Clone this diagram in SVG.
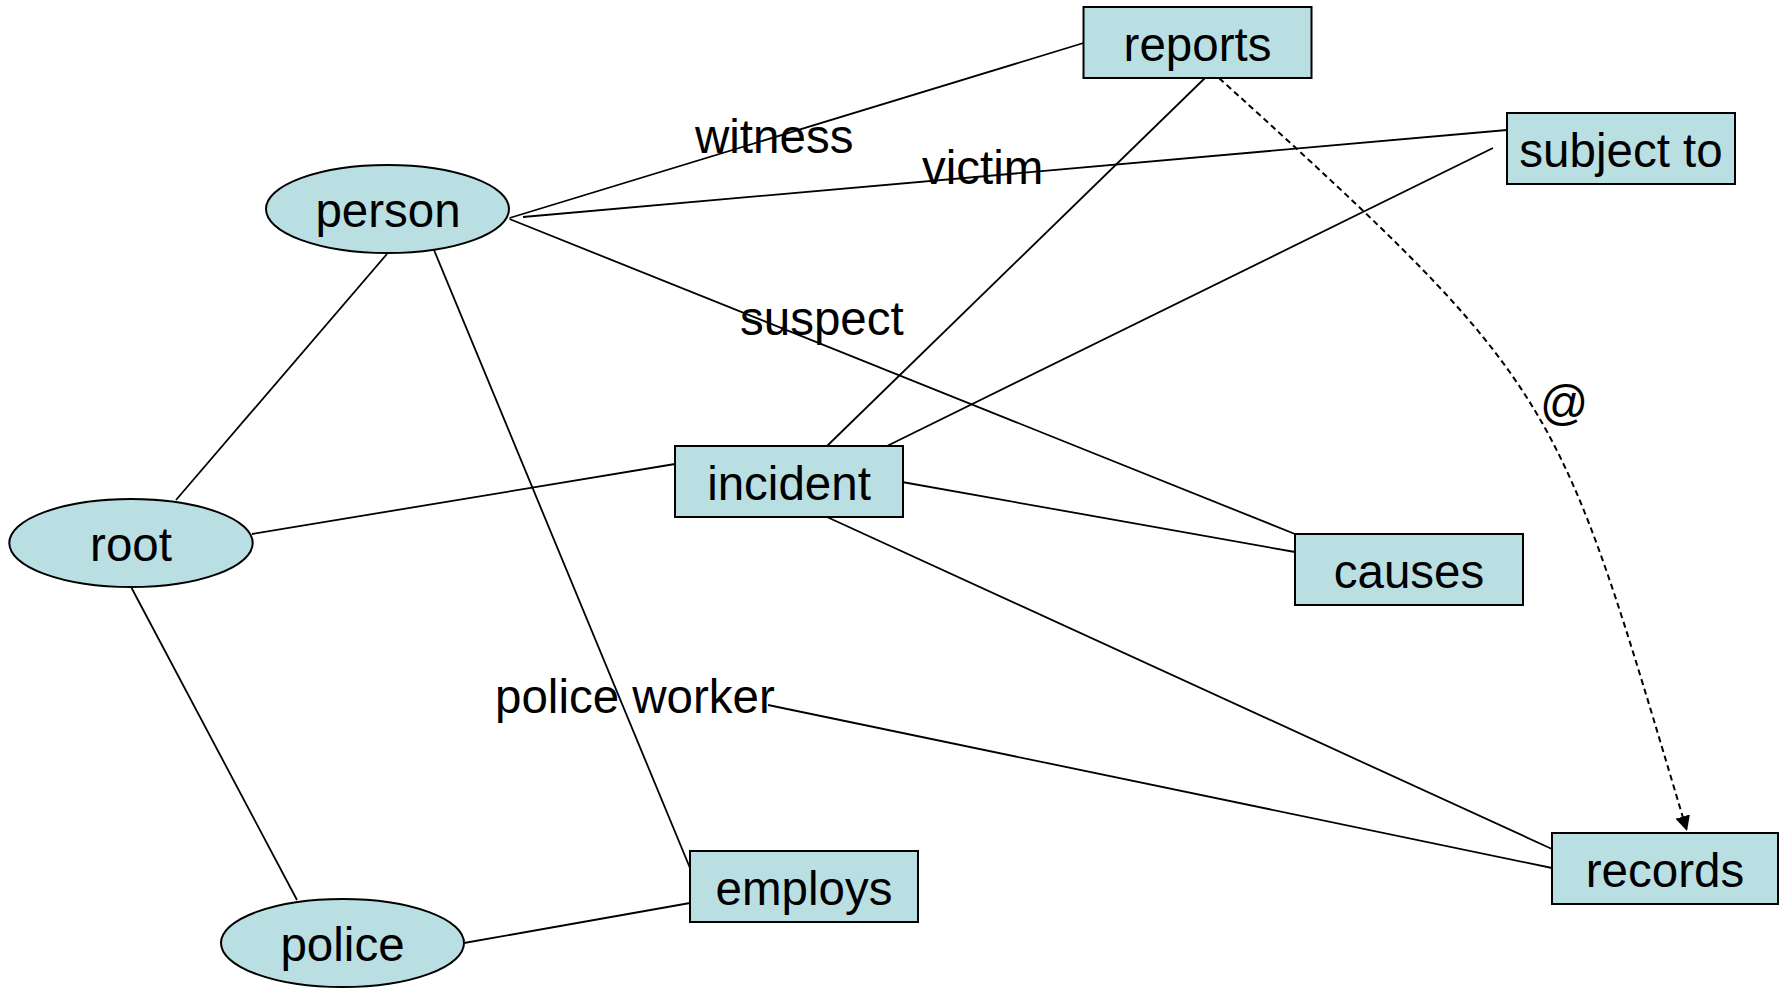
<svg xmlns="http://www.w3.org/2000/svg" width="1779" height="988" viewBox="0 0 1779 988">
<style>
.n{fill:#b9dfe3;stroke:#000;stroke-width:2}
.t{font-family:"Liberation Sans",Arial,sans-serif;font-size:47.5px;fill:#000;text-anchor:middle}
.l{font-family:"Liberation Sans",Arial,sans-serif;font-size:47.5px;fill:#000}
.c line,.c path{stroke:#000;stroke-width:1.8;fill:none}
.c .d{stroke-dasharray:6 4;stroke-width:2}
</style>
<defs>
<marker id="ah" markerUnits="userSpaceOnUse" markerWidth="16" markerHeight="16" viewBox="0 0 16 16" refX="15" refY="8" orient="auto">
<path d="M0,0.5 L15,8 L0,15.5 Z" fill="#000"/>
</marker>
</defs>
<rect width="1779" height="988" fill="#fff"/>
<g id="connectors" class="c">
<line x1="509.5" y1="218" x2="1083.5" y2="43"/>
<line x1="523" y1="217" x2="1507" y2="130"/>
<line x1="509.5" y1="219" x2="1295" y2="534"/>
<line x1="387" y1="254" x2="176" y2="500"/>
<line x1="434" y1="250" x2="690" y2="868"/>
<line x1="252" y1="534" x2="675" y2="464"/>
<line x1="131.6" y1="588" x2="297" y2="900"/>
<line x1="464" y1="943" x2="690" y2="903"/>
<line x1="827" y1="446" x2="1205" y2="78"/>
<line x1="887" y1="446" x2="1493" y2="148"/>
<line x1="902" y1="482" x2="1295" y2="552"/>
<line x1="827" y1="517" x2="1552" y2="849"/>
<line x1="768" y1="705" x2="1552" y2="868"/>
<path class="d" d="M1219,78 C1563,390 1556,393 1687,831" marker-end="url(#ah)"/>
</g>
<g id="labels">
<text class="l" x="695" y="153">witness</text>
<text class="l" x="922" y="184">victim</text>
<text class="l" x="740" y="335">suspect</text>
<text class="l" x="1540" y="419">@</text>
<text class="l" x="495" y="713">police worker</text>
</g>
<g id="reports"><rect class="n" x="1083.5" y="7" width="228" height="71"/><text class="t" x="1197.5" y="61">reports</text></g>
<g id="subject-to"><rect class="n" x="1507" y="113" width="228" height="71"/><text class="t" x="1621" y="167">subject to</text></g>
<g id="person"><ellipse class="n" cx="387.5" cy="209" rx="121.5" ry="44"/><text class="t" x="388" y="227">person</text></g>
<g id="root"><ellipse class="n" cx="131" cy="543" rx="121.7" ry="44"/><text class="t" x="131" y="561">root</text></g>
<g id="police"><ellipse class="n" cx="342.5" cy="943" rx="121.5" ry="44"/><text class="t" x="342.5" y="961">police</text></g>
<g id="incident"><rect class="n" x="675" y="446" width="228" height="71"/><text class="t" x="789" y="500">incident</text></g>
<g id="causes"><rect class="n" x="1295" y="534" width="228" height="71"/><text class="t" x="1409" y="588">causes</text></g>
<g id="employs"><rect class="n" x="690" y="851" width="228" height="71"/><text class="t" x="804" y="905">employs</text></g>
<g id="records"><rect class="n" x="1552" y="833" width="226" height="71"/><text class="t" x="1665" y="887">records</text></g>
</svg>
